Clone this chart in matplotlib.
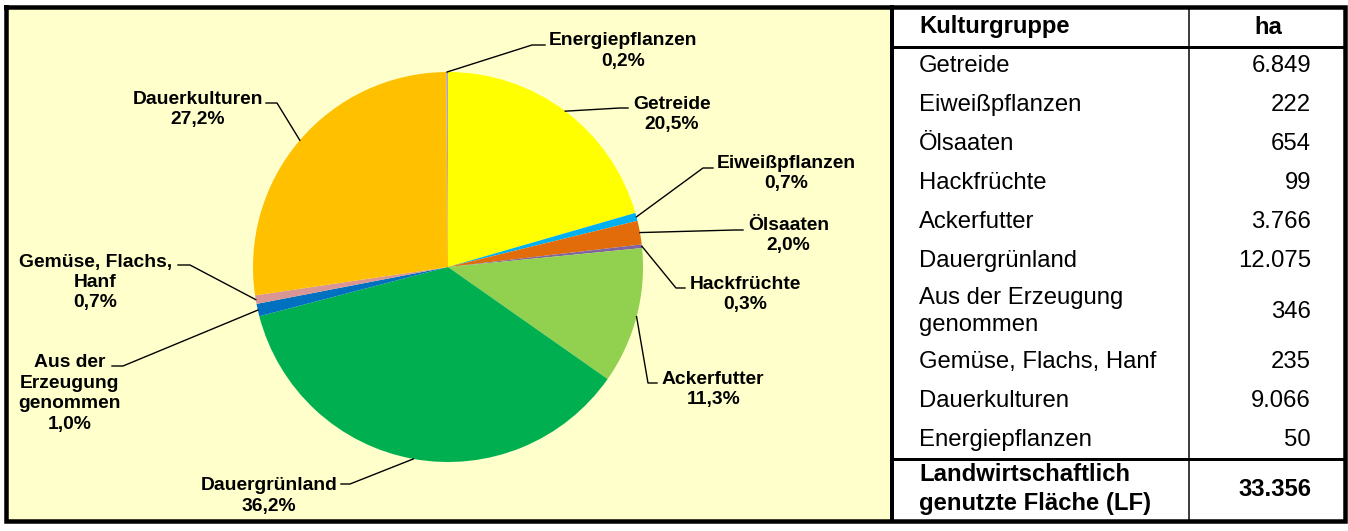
import matplotlib
matplotlib.use("Agg")
import matplotlib.pyplot as plt
import numpy as np
from matplotlib.patches import Rectangle

plt.rcParams["font.family"] = ["Liberation Sans", "DejaVu Sans"]

categories = ["Getreide", "Eiweißpflanzen", "Ölsaaten", "Hackfrüchte", "Ackerfutter",
              "Dauergrünland", "Aus der Erzeugung genommen", "Gemüse, Flachs, Hanf",
              "Dauerkulturen", "Energiepflanzen"]
hectares = [6849, 222, 654, 99, 3766, 12075, 346, 235, 9066, 50]
percent_shown = [20.5, 0.7, 2.0, 0.3, 11.3, 36.2, 1.0, 0.7, 27.2, 0.2]
total_label = "Landwirtschaftlich\ngenutzte Fläche (LF)"
total_lf = 33356

pie_names = ["Getreide", "Eiweißpflanzen", "Ölsaaten", "Hackfrüchte", "Ackerfutter",
             "Dauergrünland", "Aus der\nErzeugung\ngenommen", "Gemüse, Flachs,\nHanf",
             "Dauerkulturen", "Energiepflanzen"]
table_names = ["Getreide", "Eiweißpflanzen", "Ölsaaten", "Hackfrüchte", "Ackerfutter",
               "Dauergrünland", "Aus der Erzeugung\ngenommen", "Gemüse, Flachs, Hanf",
               "Dauerkulturen", "Energiepflanzen"]
colors = ["#FFFF00", "#00B0F0", "#E36C0A", "#8064A2", "#92D050",
          "#00B050", "#0070C0", "#D99694", "#FFC000", "#B3A2C7"]

# label layout in pixels (x, y from top): text anchor, align, elbow, line end
label_layout = [
    (633, 114.5, "left", 620, 108, 628),
    (717, 173.5, "left", 703, 168, 713),
    (748, 235.5, "left", 735, 230, 743),
    (690, 294.5, "left", 676, 288, 685),
    (662, 389.5, "left", 648, 383, 657),
    (337, 496, "right", 350, 484, 341),
    (121, 393.5, "right", 123, 366, 112),
    (172, 282.5, "right", 190, 265, 178),
    (263, 109.5, "right", 277, 103, 266),
    (549, 51, "left", 532, 45, 545),
]

W, H = 1348, 531


def fmt_de(v):
    return f"{v:,}".replace(",", ".")


def py(y):
    return H - y


def px_lw(p):
    return p * 72 / 100


fig = plt.figure(figsize=(W / 100, H / 100), dpi=100)
fig.patch.set_facecolor("white")
ax = fig.add_axes([0, 0, 1, 1])

# left panel background
ax.add_patch(Rectangle((6, py(521)), 886, 514, facecolor="#FFFFCC", edgecolor="none", zorder=0))

wedges, _ = ax.pie(hectares, colors=colors, startangle=90, counterclock=False,
                   center=(448, py(267)), radius=195,
                   wedgeprops=dict(linewidth=0), frame=True)

for w, name, pct, lay in zip(wedges, pie_names, percent_shown, label_layout):
    tx, ty, ha, ex, ey, endx = lay
    mid = np.deg2rad((w.theta1 + w.theta2) / 2)
    sx = w.center[0] + w.r * np.cos(mid)
    sy = w.center[1] + w.r * np.sin(mid)
    ax.plot([sx, ex, endx], [sy, py(ey), py(ey)], color="black", lw=1.0, zorder=3)
    txt = name + "\n" + f"{pct:.1f}".replace(".", ",") + "%"
    ax.text(tx, py(ty), txt, ha=ha, va="center", multialignment="center",
            fontsize=13.9, fontweight="bold", linespacing=1.26, zorder=4)

# table
left_x, right_x, col_x = 919, 1311, 1189
ax.text(left_x, py(27), "Kulturgruppe", ha="left", va="center", fontsize=17.2, fontweight="bold")
ax.text(1268, py(27), "ha", ha="center", va="center", fontsize=17.2, fontweight="bold")

y = 46.5
for name, val in zip(table_names, hectares):
    h = 39 + 23 * name.count("\n")
    cy = y + h / 2
    ax.text(left_x, py(cy), name, ha="left", va="center", fontsize=17.2, linespacing=1.32)
    ax.text(right_x, py(cy), fmt_de(val), ha="right", va="center", fontsize=17.2)
    y += h

ax.text(left_x, py(489), total_label, ha="left", va="center", fontsize=17.2,
        fontweight="bold", linespacing=1.34)
ax.text(right_x, py(489), fmt_de(total_lf), ha="right", va="center", fontsize=17.2,
        fontweight="bold")

# frame and grid lines
thick = px_lw(4.5)
ax.plot([6, 1344.5, 1344.5, 6, 6], [py(7), py(7), py(520.5), py(520.5), py(7)],
        color="black", lw=thick, solid_joinstyle="miter", zorder=5)
ax.plot([892, 892], [py(7), py(520.5)], color="black", lw=px_lw(4), zorder=5)
ax.plot([892, 1344.5], [py(46.5), py(46.5)], color="black", lw=px_lw(3), zorder=5)
ax.plot([892, 1344.5], [py(458.5), py(458.5)], color="black", lw=px_lw(3), zorder=5)
ax.plot([col_x, col_x], [py(7), py(520.5)], color="black", lw=px_lw(1.5), zorder=5)

ax.set_xlim(0, W)
ax.set_ylim(0, H)
ax.set_aspect("auto")
ax.axis("off")

fig.savefig("out.png", dpi=100, facecolor="white")
plt.close(fig)
